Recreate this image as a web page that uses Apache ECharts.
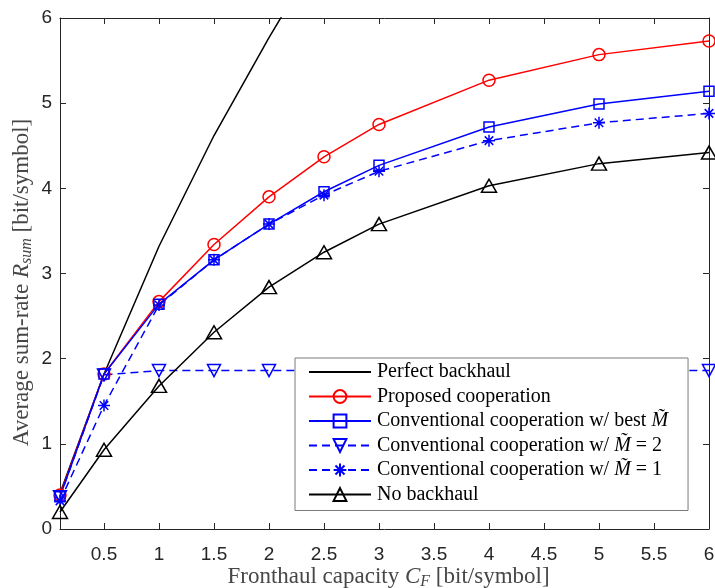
<!DOCTYPE html>
<html>
<head>
<meta charset="utf-8">
<script src="https://cdn.jsdelivr.net/npm/echarts@6/dist/echarts.min.js"></script>
<style>html,body{margin:0;padding:0;background:#fff}#c{width:715px;height:588px}</style>
</head>
<body>
<div id="c"></div>
<script>
const xVals = [0.1, 0.5, 1, 1.5, 2, 2.5, 3, 4, 5, 6];
const perfectBackhaul = [0.42, 1.82, 3.32, 4.62, 5.77, 6.85, 7.85, null, null, null];
const proposedCoop = [0.40, 1.82, 2.67, 3.34, 3.90, 4.37, 4.75, 5.27, 5.57, 5.73];
const convBest = [0.38, 1.82, 2.64, 3.16, 3.58, 3.96, 4.27, 4.72, 4.99, 5.14];
const convM2 = [0.38, 1.81, 1.86, 1.86, 1.86, 1.86, 1.86, 1.86, 1.86, 1.86];
const convM1 = [0.33, 1.45, 2.63, 3.16, 3.58, 3.92, 4.20, 4.56, 4.77, 4.88];
const noBackhaul = [0.20, 0.93, 1.68, 2.31, 2.84, 3.25, 3.58, 4.03, 4.29, 4.42];
const xTicks = [0.5, 1, 1.5, 2, 2.5, 3, 3.5, 4, 4.5, 5, 5.5, 6];
const yTicks = [0, 1, 2, 3, 4, 5, 6];
const seriesNames = [
  'Perfect backhaul',
  'Proposed cooperation',
  'Conventional cooperation w/ best M',
  'Conventional cooperation w/ M=2',
  'Conventional cooperation w/ M=1',
  'No backhaul'
];

function pairs(arr) { return xVals.map((x, i) => [x, arr[i]]); }

const SERIF = '"Liberation Serif", "DejaVu Serif", serif';
const SANS = '"Liberation Sans", Arial, sans-serif';
const AX = '#262626';
const TITLE = '#474747';
const BLUE = '#0000ff', RED = '#ff0000', BLACK = '#000000';

const starPath = 'path://M5,0L5,10M0,5L10,5M1.46,1.46L8.54,8.54M8.54,1.46L1.46,8.54';
const triDown = 'path://M0,0L10,0L5,9Z';

function mkSeries(name, data, color, symbol, size, dashed) {
  return {
    name: name, type: 'line', data: pairs(data),
    symbol: symbol, symbolSize: size, showSymbol: symbol !== 'none',
    connectNulls: false, clip: true,
    lineStyle: { color: color, width: 1.5, type: dashed ? [8, 5] : 'solid' },
    itemStyle: { color: 'rgba(0,0,0,0)', borderColor: color, borderWidth: 1.5 },
    emphasis: { disabled: true },
    animation: false
  };
}

const legendRich = {
  n: { fontFamily: SERIF, fontSize: 20, lineHeight: 20, color: '#000' },
  i: { fontFamily: SERIF, fontSize: 20, lineHeight: 20, fontStyle: 'italic', color: '#000' }
};

function titleRich(sz) {
  return {
    t: { fontFamily: SERIF, fontSize: sz, color: TITLE },
    i: { fontFamily: SERIF, fontSize: sz, fontStyle: 'italic', color: TITLE },
    s: { fontFamily: SERIF, fontSize: Math.round(sz * 0.7), fontStyle: 'italic', color: TITLE, padding: [10, 0, 0, 0] }
  };
}

const legendData = seriesNames.map((n, i) => i === 0
  ? { name: n, itemStyle: { color: 'rgba(0,0,0,0)', borderColor: 'rgba(0,0,0,0)', borderWidth: 0 } }
  : { name: n });

const chart = echarts.init(document.getElementById('c'), null, { renderer: 'canvas' });
chart.setOption({
  backgroundColor: '#fff',
  animation: false,
  grid: { left: 60, top: 18, right: 6, bottom: 59, containLabel: false, outerBoundsMode: 'none' },
  legend: {
    orient: 'vertical', left: 295, top: 358,
    backgroundColor: '#fff', borderColor: '#7a7a7a', borderWidth: 1, borderRadius: 0,
    padding: [4, 20, 6, 13],
    itemWidth: 62, itemHeight: 16, itemGap: 4.5,
    selectedMode: false,
    data: legendData,
    formatter: function (name) {
      if (name === seriesNames[2]) return '{n|Conventional cooperation w/ best }{i|M̃}';
      if (name === seriesNames[3]) return '{n|Conventional cooperation w/ }{i|M̃}{n| = 2}';
      if (name === seriesNames[4]) return '{n|Conventional cooperation w/ }{i|M̃}{n| = 1}';
      return '{n|' + name + '}';
    },
    textStyle: { rich: legendRich, padding: [0, 0, 0, 1] }
  },
  xAxis: [{
    type: 'value', min: 0.1, max: 6, position: 'bottom',
    name: '{t|Fronthaul capacity }{i|C}{s|F}{t| [bit/symbol]}',
    nameLocation: 'middle', nameGap: 35, nameMoveOverlap: false,
    nameTextStyle: { rich: titleRich(23), padding: [0, 0, 0, 8] },
    axisLine: { show: true, onZero: false, lineStyle: { color: AX, width: 1 } },
    axisTick: { show: true, inside: true, length: 6, customValues: xTicks, lineStyle: { color: AX } },
    axisLabel: { customValues: xTicks, margin: 16, fontFamily: SANS, fontSize: 19, color: AX,
      formatter: v => String(v) },
    splitLine: { show: false }
  }, {
    type: 'value', min: 0.1, max: 6, position: 'top',
    axisLine: { show: true, onZero: false, lineStyle: { color: AX, width: 1 } },
    axisTick: { show: true, inside: true, length: 6, customValues: xTicks, lineStyle: { color: AX } },
    axisLabel: { show: false }, splitLine: { show: false }
  }],
  yAxis: [{
    type: 'value', min: 0, max: 6, interval: 1, position: 'left',
    name: '{t|Average sum-rate }{i|R}{s|sum}{t| [bit/symbol]}',
    nameLocation: 'middle', nameGap: 25, nameRotate: 90, nameMoveOverlap: false,
    nameTextStyle: { rich: titleRich(23), padding: [0, 18, 0, 0] },
    axisLine: { show: true, onZero: false, lineStyle: { color: AX, width: 1 } },
    axisTick: { show: true, inside: true, length: 6, lineStyle: { color: AX } },
    axisLabel: { margin: 8, fontFamily: SANS, fontSize: 19, color: AX },
    splitLine: { show: false }
  }, {
    type: 'value', min: 0, max: 6, interval: 1, position: 'right',
    axisLine: { show: true, onZero: false, lineStyle: { color: AX, width: 1 } },
    axisTick: { show: true, inside: true, length: 6, lineStyle: { color: AX } },
    axisLabel: { show: false }, splitLine: { show: false }
  }],
  series: [
    mkSeries(seriesNames[0], perfectBackhaul, BLACK, 'none', 0, false),
    mkSeries(seriesNames[1], proposedCoop, RED, 'circle', 12, false),
    mkSeries(seriesNames[2], convBest, BLUE, 'rect', 10, false),
    mkSeries(seriesNames[3], convM2, BLUE, triDown, [13, 12], true),
    mkSeries(seriesNames[4], convM1, BLUE, starPath, 12, true),
    mkSeries(seriesNames[5], noBackhaul, BLACK, 'triangle', [15, 13], false)
  ]
});
</script>
</body>
</html>
